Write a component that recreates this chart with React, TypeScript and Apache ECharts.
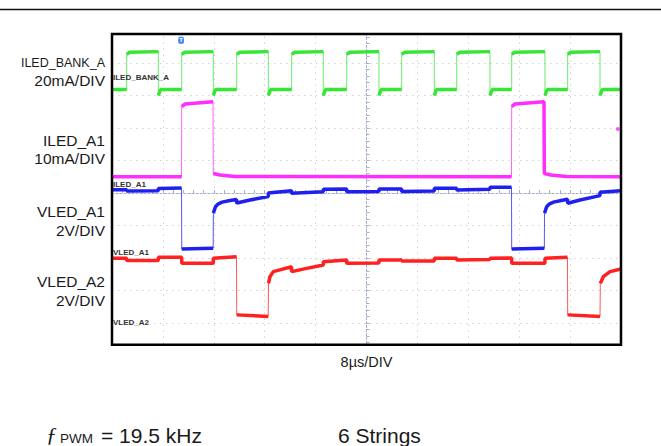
import React, { useEffect, useRef } from "react";
import * as echarts from "echarts";

// Horizontal: time in µs relative to screen centre (8 µs/DIV). Vertical: screen divisions relative to centre line.
const timeMin = -40;
const timeMax = 40;
const timeStep = 8;
const divMin = -5;
const divMax = 5;

// ILED_BANK_A (20 mA/DIV): edge times (µs) and levels (div)
const bankRise = [-37.69, -29.04, -20.4, -11.76, -3.11, 5.53, 14.18, 22.82, 31.62];
const bankFall = [-32.72, -24.08, -15.43, -6.79, 1.96, 10.66, 19.41, 28.05, 36.7];
const bankHigh = [4.27, 4.33, 4.35]; // start, after rise, before fall
const bankLow = [3.0, 3.185]; // undershoot spike, settled

// ILED_A1 (10 mA/DIV)
const iledA1: [number, number][] = [
  [-40, 0.5], [-29.07, 0.5], [-29.04, 2.66], [-28.5, 2.74], [-24.12, 2.81],
  [-24.08, 0.6], [-23.0, 0.555], [-20.7, 0.51], [22.79, 0.5],
  [22.82, 2.66], [23.35, 2.74], [27.9, 2.81], [27.95, 0.6], [29.0, 0.555], [31.4, 0.51], [40, 0.5],
];

// VLED_A1 (2 V/DIV)
const vledA1: [number, number][] = [
  [-40, 0.1], [-37.69, 0.1], [-37.69, 0.06], [-32.72, 0.07], [-32.72, 0.14], [-29.07, 0.155],
  [-29.04, -1.72], [-24.1, -1.7],
  [-24.07, -0.62], [-23.75, -0.43], [-23.35, -0.34], [-22.7, -0.28], [-21.45, -0.23], [-20.43, -0.2],
  [-20.4, -0.31], [-18.3, -0.215], [-15.43, -0.11],
  [-15.43, 0.0], [-11.79, 0.07],
  [-11.76, -0.01], [-6.79, 0.04],
  [-6.79, 0.115], [-3.11, 0.125],
  [-3.11, 0.04], [1.96, 0.045],
  [1.96, 0.125], [5.53, 0.125],
  [5.53, 0.045], [10.66, 0.06],
  [10.66, 0.145], [14.18, 0.145],
  [14.18, 0.09], [19.41, 0.115],
  [19.41, 0.175], [22.79, 0.175],
  [22.82, -1.72], [27.95, -1.7],
  [27.98, -0.62], [28.3, -0.43], [28.7, -0.34], [29.4, -0.28], [30.6, -0.23], [31.59, -0.195],
  [31.62, -0.315], [33.56, -0.215], [36.7, -0.08],
  [36.7, 0.02], [40, 0.07],
];

// VLED_A2 (2 V/DIV)
const vledA2: [number, number][] = [
  [-40, -2.01], [-37.69, -2.01], [-37.69, -2.08], [-32.72, -2.08], [-32.72, -1.98], [-29.04, -1.98],
  [-29.04, -2.16], [-24.08, -2.16],
  [-24.08, -2.01], [-20.43, -1.96],
  [-20.4, -3.75], [-15.45, -3.8],
  [-15.4, -2.78], [-15.17, -2.575], [-14.65, -2.42], [-13.33, -2.35], [-11.79, -2.27],
  [-11.76, -2.42], [-9.4, -2.32], [-6.79, -2.215],
  [-6.79, -2.115], [-3.11, -2.06],
  [-3.11, -2.16], [1.96, -2.155],
  [1.96, -2.06], [5.53, -2.06],
  [5.53, -2.09], [10.66, -2.09],
  [10.66, -2.01], [14.18, -2.01],
  [14.18, -2.06], [19.41, -2.045],
  [19.41, -2.01], [22.82, -2.0],
  [22.82, -2.16], [28.05, -2.16],
  [28.05, -2.01], [31.59, -1.98],
  [31.62, -3.75], [36.7, -3.8],
  [36.75, -2.78], [37.22, -2.575], [38.27, -2.42], [40, -2.34],
];

const channelMarkerA1: [number, number][] = [[39.5, 1.97]];

const traceNames = ["ILED_BANK_A", "ILED_A1", "VLED_A1", "VLED_A2"];
const traceColors = ["#35e635", "#ff2eff", "#1f1ff0", "#ff2020"];
const sideLabels = [
  ["ILED_BANK_A", "20mA/DIV"],
  ["ILED_A1", "10mA/DIV"],
  ["VLED_A1", "2V/DIV"],
  ["VLED_A2", "2V/DIV"],
];

function buildBank(): [number, number][] {
  const pts: [number, number][] = [[timeMin, bankLow[1]]];
  bankRise.forEach((r, i) => {
    const f = bankFall[i];
    pts.push([r, bankLow[1]], [r, bankHigh[0]], [r + 0.5, bankHigh[1]], [f, bankHigh[2]], [f, bankLow[0]], [f + 0.35, bankLow[1]]);
  });
  pts.push([timeMax, bankLow[1]]);
  return pts;
}

function plateaus(pts: [number, number][]): any[] {
  const out: any[] = [];
  for (let i = 0; i < pts.length; i++) {
    if (i > 0) {
      const [t0, v0] = pts[i - 1];
      const [t1, v1] = pts[i];
      if (t1 - t0 <= 0.05 && Math.abs(v1 - v0) > 0.3) out.push([(t0 + t1) / 2, "-"]);
    }
    out.push(pts[i]);
  }
  return out;
}

const FONT = '"Liberation Sans", Arial, sans-serif';

function txt(x: number, y: number, text: string, size: number, align: string, opts: any = {}) {
  return {
    type: "text",
    x,
    y,
    z: 110,
    style: {
      text,
      fill: opts.fill || "#1a1a1a",
      font: `${opts.style || "normal"} ${opts.weight || "normal"} ${size}px ${opts.family || FONT}`,
      align,
      textAlign: align,
      verticalAlign: "middle",
      textVerticalAlign: "middle",
    },
  };
}

export default function App() {
  const ref = useRef<HTMLDivElement>(null);
  useEffect(() => {
    if (!ref.current) return;
    const chart = echarts.init(ref.current, undefined, { renderer: "svg" });
    const traces = [buildBank(), iledA1, vledA1, vledA2];
    const series: any[] = [];
    traces.forEach((pts, i) => {
      series.push({
        name: traceNames[i] + "_edge",
        type: "line",
        data: pts,
        showSymbol: false,
        symbol: "none",
        silent: true,
        lineStyle: { color: traceColors[i], width: 1, opacity: 0.75 },
        z: 3 + i,
      });
      series.push({
        name: traceNames[i],
        type: "line",
        data: plateaus(pts),
        showSymbol: false,
        symbol: "none",
        silent: true,
        connectNulls: false,
        lineStyle: { color: traceColors[i], width: 3.5 },
        z: 3 + i,
      });
    });
    series.push({
      type: "scatter",
      data: channelMarkerA1,
      symbol: "circle",
      symbolSize: 4,
      itemStyle: { color: traceColors[1] },
      silent: true,
      z: 10,
    });

    const centreColor = "#a3aecb";
    const gridColor = "#d2d2d2";

    const graphic: any[] = [
      { type: "line", z: 100, shape: { x1: 0, y1: 9.5, x2: 661, y2: 9.5 }, style: { stroke: "#111", lineWidth: 1.5 } },
      { type: "rect", z: 90, shape: { x: 100, y: 16, width: 540, height: 17 }, style: { fill: "#fff" } },
      { type: "rect", z: 90, shape: { x: 100, y: 346, width: 540, height: 14 }, style: { fill: "#fff" } },
      { type: "rect", z: 100, shape: { x: 112, y: 34, width: 509, height: 310.7 }, style: { fill: "none", stroke: "#000", lineWidth: 2.5 } },
      { type: "rect", z: 100, shape: { x: 178.3, y: 36.8, width: 5.6, height: 7, r: 1.5 }, style: { fill: "#3a86ee" } },
      txt(181.1, 40.4, "T", 6, "center", { fill: "#fff", weight: "bold" }),
    ];
    const labelY = [[63.3, 80.7], [140, 158.3], [211, 230], [281.7, 300]];
    sideLabels.forEach((pair, i) => {
      graphic.push(txt(105, labelY[i][0], pair[0], i === 0 ? 12.5 : 15.5, "right"));
      graphic.push(txt(105, labelY[i][1], pair[1], 15.5, "right"));
    });
    const innerY = [77.7, 184.2, 252.7, 322.3];
    traceNames.forEach((n, i) => {
      graphic.push(txt(113, innerY[i], n, 8, "left", { weight: "bold", fill: "#333" }));
    });
    graphic.push(txt(366.5, 362, "8µs/DIV", 14.5, "center"));
    graphic.push(txt(46, 434, "ƒ", 22, "left", { style: "italic", family: '"Liberation Serif", serif' }));
    graphic.push(txt(60, 438, "PWM", 13.5, "left"));
    graphic.push(txt(101, 435, "= 19.5 kHz", 21, "left"));
    graphic.push(txt(338, 435, "6 Strings", 21, "left"));

    const axisCommon = {
      type: "value",
      axisLabel: { show: false },
      axisLine: { show: true, onZero: true, lineStyle: { color: centreColor, width: 1, type: [2, 2] } },
      axisTick: { show: true, inside: true, length: 3, lineStyle: { color: centreColor } },
      minorTick: { show: true, splitNumber: 5, length: 3, lineStyle: { color: centreColor } },
      splitLine: { show: true, lineStyle: { color: gridColor, width: 1, type: [1.5, 4.5] } },
    };

    chart.setOption({
      animation: false,
      backgroundColor: "#ffffff",
      grid: { left: 112, top: 30.5, width: 509, height: 325, containLabel: false },
      xAxis: { ...axisCommon, min: timeMin, max: timeMax, interval: timeStep },
      yAxis: { ...axisCommon, min: divMin, max: divMax, interval: 1 },
      series,
      graphic,
    });
    return () => chart.dispose();
  }, []);
  return <div ref={ref} style={{ position: "fixed", left: 0, top: 0, width: 661, height: 446 }} />;
}
